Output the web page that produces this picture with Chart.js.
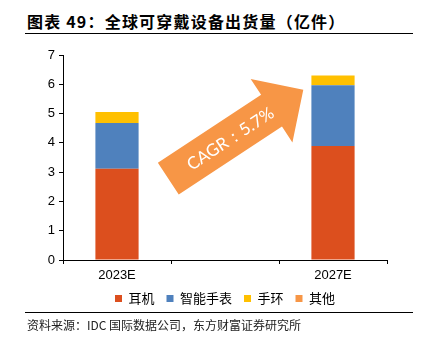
<!DOCTYPE html>
<html>
<head>
<meta charset="utf-8">
<script src="https://cdn.jsdelivr.net/npm/chart.js@4"></script>
<style>
  body { margin: 0; background: #fff; width: 423px; height: 346px; position: relative; overflow: hidden; }
  #title { position: absolute; left: 27px; top: 11px; font: 600 16px "Noto Sans CJK SC", sans-serif; letter-spacing: 1.2px; color: #000; line-height: 20px; white-space: nowrap; }
  #topline { position: absolute; left: 25px; top: 33px; width: 388px; height: 1px; background: #000; }
  #box { position: absolute; left: 0; top: 40px; width: 423px; height: 275px; }
  #botline { position: absolute; left: 25px; top: 312px; width: 388px; height: 1px; background: #000; }
  #source { position: absolute; left: 27px; top: 317px; font: 12px "Noto Sans CJK SC", sans-serif; color: #222; line-height: 16px; white-space: nowrap; }
</style>
</head>
<body>
<div id="title">图表 49：全球可穿戴设备出货量（亿件）</div>
<div id="topline"></div>
<div id="box"><canvas id="chart"></canvas></div>
<div id="botline"></div>
<div id="source">资料来源：IDC 国际数据公司，东方财富证券研究所</div>
<script>
// categories (middle slot is an empty spacer, as in the source chart)
const years = ["2023E", "", "2027E"];
const earphones = [3.12, null, 3.89];
const smartwatch = [1.56, null, 2.08];
const bands = [0.37, null, 0.33];
const others = [0, null, 0];
const cagrText = "CAGR：5.7%";

const ctx = document.getElementById("chart").getContext("2d");

// the big orange arrow between the bars
const arrowPlugin = {
  id: "cagrArrow",
  afterDatasetsDraw(chart) {
    const x = chart.scales.x, y = chart.scales.y, c = chart.ctx;
    const x0 = x.getPixelForValue(0.475), y0 = y.getPixelForValue(2.78);
    const x1 = x.getPixelForValue(1.725), y1 = y.getPixelForValue(5.81);
    const len = Math.hypot(x1 - x0, y1 - y0);
    const ang = Math.atan2(y1 - y0, x1 - x0);
    const sw = 19, hw = 38, hl = 38;
    c.save();
    c.translate(x0, y0);
    c.rotate(ang);
    c.fillStyle = "#F79646";
    c.beginPath();
    c.moveTo(0, -sw);
    c.lineTo(len - hl, -sw);
    c.lineTo(len - hl, -hw);
    c.lineTo(len, 0);
    c.lineTo(len - hl, hw);
    c.lineTo(len - hl, sw);
    c.lineTo(0, sw);
    c.closePath();
    c.fill();
    c.fillStyle = "#fff";
    c.font = "17px Lato, sans-serif";
    c.textAlign = "center";
    c.textBaseline = "middle";
    c.fillText(cagrText, (len - hl) / 2 + 12, 1);
    c.restore();
  }
};

new Chart(ctx, {
  type: "bar",
  data: {
    labels: years,
    datasets: [
      { label: "耳机", data: earphones, backgroundColor: "#DC4F1E" },
      { label: "智能手表", data: smartwatch, backgroundColor: "#4F81BD" },
      { label: "手环", data: bands, backgroundColor: "#FFC000" },
      { label: "其他", data: others, backgroundColor: "#F79646" },
    ],
  },
  options: {
    responsive: true,
    maintainAspectRatio: false,
    animation: false,
    datasets: { bar: { categoryPercentage: 1, barPercentage: 0.4 } },
    layout: { padding: { left: 0, right: 36, top: 15, bottom: 0 } },
    plugins: {
      tooltip: { enabled: false },
      legend: {
        position: "bottom",
        fullSize: false,
        labels: {
          boxWidth: 7, boxHeight: 7, padding: 12,
          color: "#000",
          font: { size: 13, family: "'Noto Sans CJK SC', sans-serif" },
        },
      },
    },
    scales: {
      x: {
        stacked: true,
        afterFit(s) { s.height = 20; },
        grid: { offset: true, drawOnChartArea: false, tickLength: 4, color: "#000" },
        border: { color: "#000" },
        ticks: { color: "#000", font: { size: 13, family: "'Liberation Sans', Arial" }, padding: 4 },
      },
      y: {
        stacked: true,
        min: 0, max: 7,
        afterFit(s) { s.width = 63; },
        grid: { drawOnChartArea: false, tickLength: 4, color: "#000" },
        border: { color: "#000" },
        ticks: { stepSize: 1, color: "#000", font: { size: 13, family: "'Liberation Sans', Arial" }, padding: 4 },
      },
    },
  },
  plugins: [arrowPlugin],
});
</script>
</body>
</html>
